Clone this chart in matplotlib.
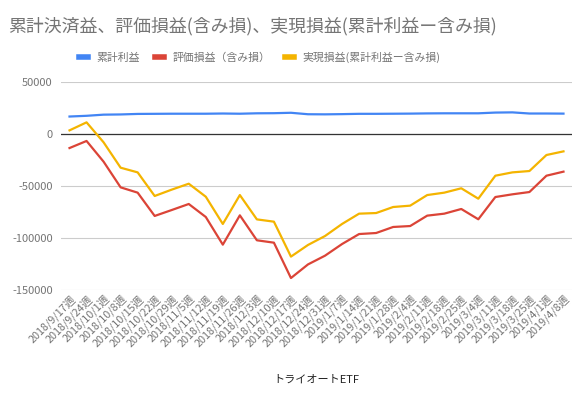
import matplotlib
matplotlib.use('Agg')
import matplotlib.pyplot as plt
import matplotlib.ticker as ticker

plt.rcParams['font.family'] = ['Noto Sans CJK JP', 'DejaVu Sans']
plt.rcParams['axes.unicode_minus'] = False

# --- data ---
weeks = ['2018/9/17週', '2018/9/24週', '2018/10/1週', '2018/10/8週', '2018/10/15週',
         '2018/10/22週', '2018/10/29週', '2018/11/5週', '2018/11/12週', '2018/11/19週',
         '2018/11/26週', '2018/12/3週', '2018/12/10週', '2018/12/17週', '2018/12/24週',
         '2018/12/31週', '2019/1/7週', '2019/1/14週', '2019/1/21週', '2019/1/28週',
         '2019/2/4週', '2019/2/11週', '2019/2/18週', '2019/2/25週', '2019/3/4週',
         '2019/3/11週', '2019/3/18週', '2019/3/25週', '2019/4/1週', '2019/4/8週']
cum_profit = [16800, 17500, 18600, 18800, 19300, 19400, 19500, 19500, 19500, 19700,
              19500, 19900, 20000, 20400, 19000, 18900, 19100, 19400, 19400, 19500,
              19600, 19800, 19900, 19900, 19900, 20600, 20800, 19700, 19700, 19600]
unrealized = [-13500, -6700, -26600, -51300, -56400, -78800, -73100, -67300, -79800, -106400,
              -78200, -102200, -104500, -138500, -125400, -117000, -105800, -96200, -95200, -89400,
              -88500, -78500, -76600, -72100, -82000, -60600, -58000, -55800, -40100, -36200]
realized = [3500, 11200, -8000, -32400, -36900, -59600, -53500, -47800, -60300, -86500,
            -58700, -82100, -84300, -117900, -106700, -98100, -86500, -76600, -76000, -70200,
            -68900, -58700, -56400, -52200, -62200, -40100, -36900, -35600, -20200, -16700]
y_ticks = [50000, 0, -50000, -100000, -150000]

gray = '#757575'
fig = plt.figure(figsize=(5.85, 3.98), dpi=100)
ax = fig.add_axes([61 / 585, 1 - 290 / 398, 511 / 585, 208 / 398])

x = list(range(len(weeks)))
l1, = ax.plot(x, cum_profit, color='#4285F4', lw=1.6, label='累計利益')
l2, = ax.plot(x, unrealized, color='#DB4437', lw=1.6, label='評価損益（含み損）')
l3, = ax.plot(x, realized, color='#F4B400', lw=1.6, label='実現損益(累計利益ー含み損)')

ax.set_xlim(-0.5, len(weeks) - 0.5)
ax.set_ylim(-150000, 50000)
ax.set_yticks(y_ticks)
ax.yaxis.set_major_formatter(ticker.FuncFormatter(lambda v, p: f"{int(v)}"))
ax.grid(axis='y', color='#cccccc', lw=0.8)
ax.axhline(0, color='#333333', lw=0.9, zorder=1.5)
ax.set_axisbelow(True)
for s in ax.spines.values():
    s.set_visible(False)
ax.tick_params(axis='y', length=0, labelsize=8, labelcolor=gray, pad=6)
ax.tick_params(axis='x', length=0, labelsize=7.8, labelcolor=gray, pad=2)
ax.set_xticks(x)
ax.set_xticklabels(weeks, rotation=45, ha='right', va='top', rotation_mode='anchor')
ax.set_xlabel('トライオートETF', fontsize=8, color='#222222', labelpad=19)

fig.text(8 / 585, 1 - 26 / 398, '累計決済益、評価損益(含み損)、実現損益(累計利益ー含み損)',
         fontsize=12.9, color=gray, va='center', ha='left')
fig.legend(handles=[l1, l2, l3], loc='center', bbox_to_anchor=(0.444, 1 - 57 / 398),
           ncol=3, frameon=False, fontsize=7.8, labelcolor=gray, handlelength=0.8,
           handletextpad=0.8, columnspacing=1.4)
for h in fig.legends[0].legend_handles:
    h.set_linewidth(4)

fig.savefig('out.png', dpi=100)
